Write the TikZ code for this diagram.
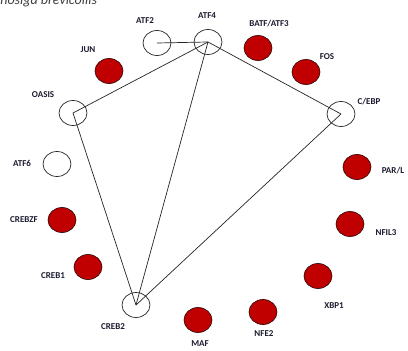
\documentclass[tikz,border=0pt]{standalone}
\usepackage{fontspec}
\setmainfont{Carlito}
\usetikzlibrary{shapes.geometric}
\definecolor{bzipred}{HTML}{C00000}
\definecolor{bzipedge}{HTML}{3A0A0A}
\definecolor{labelink}{HTML}{1C1C30}
\begin{document}
\begin{tikzpicture}[x=1pt,y=-1pt,
  gene/.style={ellipse,draw=black!85,line width=0.7pt,minimum width=28pt,minimum height=25pt,inner sep=0pt},
  absent/.style={gene,fill=white},
  present/.style={gene,fill=bzipred,draw=bzipedge},
  tag/.style={font=\bfseries\fontsize{9}{10}\selectfont,text=labelink,inner sep=0pt},
  link/.style={draw=black!85,line width=0.7pt}]
\useasboundingbox (0,0) rectangle (408,351);
\fill[white] (0,0) rectangle (408,351);

% species name, running off the top-left corner
\node[anchor=base west,inner sep=0pt,font=\itshape\fontsize{14}{16}\selectfont,text=black!75] (species) at (-19,4) {Monosiga brevicollis};

% bZIP family members: white = absent, red = present
\node[absent]  (atf2)  at (157,43)  {};
\node[absent]  (atf4)  at (208,42)  {};
\node[present] (batf)  at (258,48)  {};
\node[present] (jun)   at (109,71)  {};
\node[present] (fos)   at (306,72)  {};
\node[absent]  (oasis) at (73,113)  {};
\node[absent]  (cebp)  at (341,114) {};
\node[absent]  (atf6)  at (57,164)  {};
\node[present] (parl)  at (357,167) {};
\node[present] (crebzf) at (62,220) {};
\node[present] (nfil3) at (350,224) {};
\node[present] (creb1) at (88,267)  {};
\node[present] (xbp1)  at (318,276) {};
\node[absent]  (creb2) at (136,305) {};
\node[present] (nfe2)  at (263,312) {};
\node[present] (maf)   at (198,320) {};

% names
\node[tag] (latf2)  at (145,21)  {ATF2};
\node[tag] (latf4)  at (207,16)  {ATF4};
\node[tag] (lbatf)  at (269,24)  {BATF/ATF3};
\node[tag] (ljun)   at (88,50)   {JUN};
\node[tag] (lfos)   at (327,57)  {FOS};
\node[tag] (loasis) at (43,95)   {OASIS};
\node[tag] (lcebp)  at (369,102) {C/EBP};
\node[tag] (latf6)  at (22,163)  {ATF6};
\node[tag] (lparl)  at (393,171) {PAR/L};
\node[tag] (lcrebzf) at (24,220) {CREBZF};
\node[tag] (lnfil3) at (386,233) {NFIL3};
\node[tag] (lcreb1) at (53,276)  {CREB1};
\node[tag] (lxbp1)  at (334,306) {XBP1};
\node[tag] (lcreb2) at (113,327) {CREB2};
\node[tag] (lnfe2)  at (264,334) {NFE2};
\node[tag] (lmaf)   at (200,344) {MAF};

% dimerisation partners
\draw[link] (atf2.center) -- (atf4.center);
\draw[link] (atf4.center) -- (oasis.center);
\draw[link] (atf4.center) -- (creb2.center);
\draw[link] (atf4.center) -- (cebp.center);
\draw[link] (oasis.center) -- (creb2.center);
\draw[link] (cebp.center) -- (creb2.center);
\end{tikzpicture}
\end{document}
